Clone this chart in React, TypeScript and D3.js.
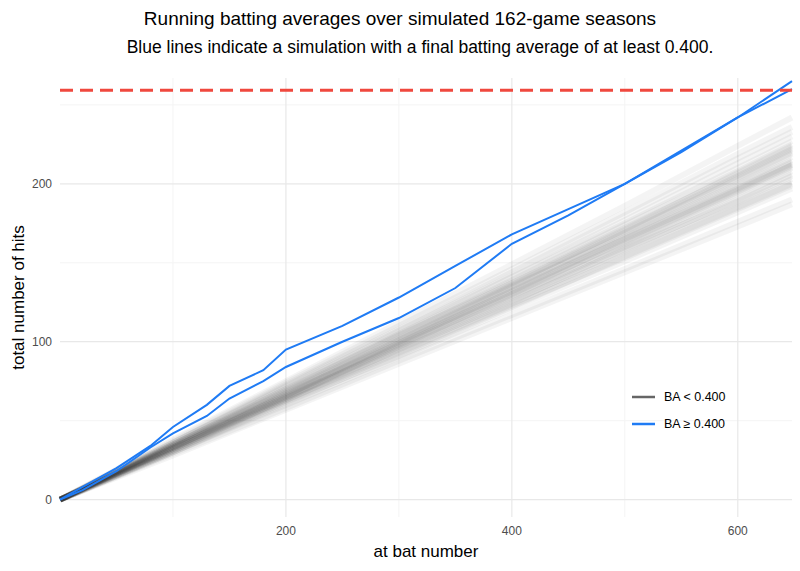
import * as d3 from 'd3'

const checkpoints = [0, 100, 200, 300, 400, 500, 600, 648]

// grey simulations: hits at each checkpoint
const greyRuns = [
  [0, 33, 66, 99, 132, 166, 199, 215],
  [0, 35, 70, 104, 138, 172, 206, 223],
  [0, 31, 63, 94, 126, 157, 188, 203],
  [0, 30, 60, 90, 121, 151, 182, 197],
  [0, 36, 72, 107, 142, 177, 213, 230],
  [0, 34, 67, 100, 134, 168, 202, 219],
  [0, 32, 64, 97, 129, 161, 194, 210],
  [0, 29, 58, 88, 117, 146, 176, 190],
  [0, 37, 74, 110, 146, 182, 219, 236],
  [0, 33, 65, 98, 131, 163, 196, 212],
  [0, 34, 69, 102, 136, 170, 204, 221],
  [0, 32, 63, 95, 127, 158, 190, 206],
  [0, 38, 75, 112, 149, 186, 224, 242],
  [0, 31, 62, 93, 124, 155, 186, 201],
  [0, 35, 68, 103, 137, 171, 205, 222],
  [0, 33, 67, 99, 133, 165, 198, 214],
  [0, 30, 61, 92, 123, 153, 184, 199],
  [0, 36, 71, 106, 141, 175, 210, 227],
  [0, 34, 66, 101, 135, 167, 200, 217],
  [0, 32, 65, 96, 128, 160, 192, 208],
  [0, 28, 57, 86, 115, 144, 173, 187],
  [0, 35, 70, 105, 139, 174, 208, 225],
  [0, 33, 66, 100, 132, 165, 197, 213],
  [0, 31, 64, 95, 125, 159, 189, 205],
  [0, 34, 68, 101, 135, 169, 203, 220],
  [0, 36, 73, 108, 144, 180, 216, 233],
  [0, 32, 64, 98, 130, 162, 195, 211],
  [0, 33, 65, 97, 130, 164, 196, 212],
  [0, 30, 62, 91, 122, 154, 185, 200],
  [0, 35, 69, 104, 137, 171, 207, 224],
]

const blueAtBats = [0, 20, 50, 80, 100, 130, 150, 180, 200, 250, 300, 350, 400, 450, 500, 550, 600, 648]
const blueUpper = [0, 8, 20, 34, 46, 60, 72, 82, 95, 110, 128, 148, 168, 184, 200, 221, 242, 265]
const blueLower = [0, 6, 18, 33, 42, 53, 64, 75, 84, 100, 115, 134, 162, 180, 200, 220, 242, 260]

const xTicks = [200, 400, 600]
const yTicks = [0, 100, 200]
const xMinor = [100, 300, 500]
const yMinor = [50, 150, 250]
const threshold = 259.2

export default function App() {
  const W = 800
  const H = 571
  const x = d3.scaleLinear().domain([0, 648]).range([60, 792])
  const y = d3.scaleLinear().domain([-11, 267]).range([517, 78])
  const line = d3.line<number>().x((_, i) => x(checkpoints[i])).y((v) => y(v))
  const blueLine = d3.line<number>().x((_, i) => x(blueAtBats[i])).y((v) => y(v))
  const font = 'Helvetica, Arial, "Liberation Sans", sans-serif'
  return (
    <svg width={W} height={H} style={{ position: 'absolute', left: 0, top: 0 }} fontFamily={font}>
      <rect width={W} height={H} fill="#fff" />
      {xMinor.map((t) => (
        <line key={'xm' + t} x1={x(t)} x2={x(t)} y1={78} y2={517} stroke="#f4f4f4" />
      ))}
      {yMinor.map((t) => (
        <line key={'ym' + t} x1={60} x2={792} y1={y(t)} y2={y(t)} stroke="#f4f4f4" />
      ))}
      {xTicks.map((t) => (
        <line key={'xg' + t} x1={x(t)} x2={x(t)} y1={78} y2={517} stroke="#e8e8e8" strokeWidth={1.2} />
      ))}
      {yTicks.map((t) => (
        <line key={'yg' + t} x1={60} x2={792} y1={y(t)} y2={y(t)} stroke="#e8e8e8" strokeWidth={1.2} />
      ))}
      {greyRuns.map((r, i) => (
        <path key={i} d={line(r) ?? ''} fill="none" stroke="#000" strokeOpacity={0.045} strokeWidth={6} />
      ))}
      <path d={blueLine(blueUpper) ?? ''} fill="none" stroke="#1f7bf4" strokeWidth={2} />
      <path d={blueLine(blueLower) ?? ''} fill="none" stroke="#1f7bf4" strokeWidth={2} />
      <line x1={60} x2={792} y1={y(threshold)} y2={y(threshold)} stroke="#f0483e" strokeWidth={3} strokeDasharray="13,7" />
      {xTicks.map((t) => (
        <text key={'xt' + t} x={x(t)} y={535} textAnchor="middle" fontSize={12} fill="#4d4d4d">{t}</text>
      ))}
      {yTicks.map((t) => (
        <text key={'yt' + t} x={52} y={y(t) + 4} textAnchor="end" fontSize={12} fill="#4d4d4d">{t}</text>
      ))}
      <text x={426} y={557} textAnchor="middle" fontSize={17}>at bat number</text>
      <text transform={`translate(24,${y(128)}) rotate(-90)`} textAnchor="middle" fontSize={17}>total number of hits</text>
      <text x={400} y={25} textAnchor="middle" fontSize={19}>Running batting averages over simulated 162-game seasons</text>
      <text x={420} y={53} textAnchor="middle" fontSize={17.5}>Blue lines indicate a simulation with a final batting average of at least 0.400.</text>
      <line x1={632} x2={655} y1={397} y2={397} stroke="#666" strokeWidth={2.5} />
      <text x={664} y={401} fontSize={12.5}>BA &lt; 0.400</text>
      <line x1={632} x2={655} y1={424} y2={424} stroke="#1f7bf4" strokeWidth={2.5} />
      <text x={664} y={428} fontSize={12.5}>BA ≥ 0.400</text>
    </svg>
  )
}
